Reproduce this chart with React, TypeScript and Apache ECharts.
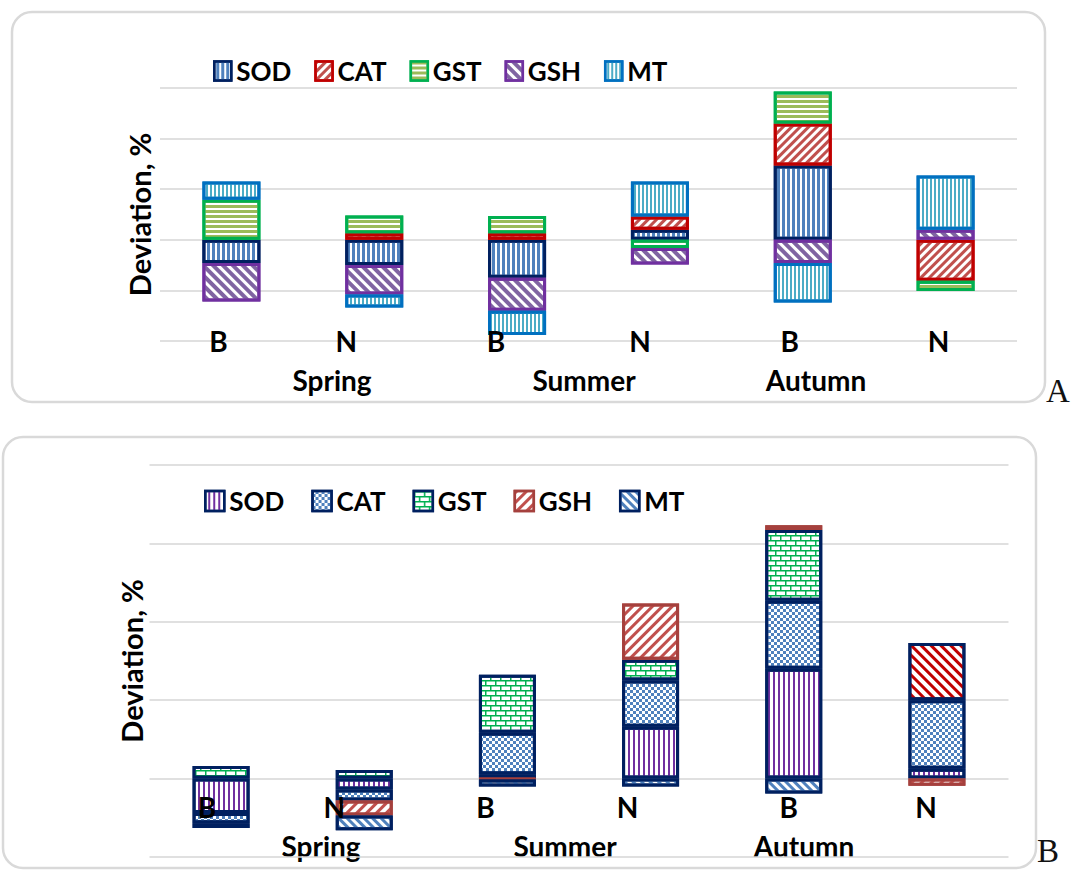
import React, { useEffect, useRef } from 'react';
import * as echarts from 'echarts';

// ---------- data ----------
const categories = ['B', 'N', 'B', 'N', 'B', 'N'];
const seasons = ['Spring', 'Summer', 'Autumn'];
const seriesNames = ['SOD', 'CAT', 'GST', 'GSH', 'MT'];

// Panel A (deviation, %)
const sodA = [-4.6, -5.0, -7.5, 2.0, 14.7, null];
const catA = [null, 1.3, 1.3, 2.6, 8.3, -8.1];
const gstA = [7.9, 3.5, 3.4, -1.6, 6.3, -2.0];
const gshA = [-7.6, -5.8, -6.5, -3.3, -4.6, 2.0];
const mtA = [3.6, -2.6, -4.8, 6.9, -7.8, 10.7];

// Panel B (deviation, %)
const sodB = [-4.4, -1.4, 0.55, 6.6, 14.0, 1.25];
const catB = [-1.3, -1.4, 5.3, 5.9, 8.7, 8.75];
const gstB = [1.6, 1.1, 7.4, 2.65, 9.0, null];
const gshB = [null, -1.9, -0.1, 7.2, 0.6, -0.9];
const mtB = [-0.6, -1.9, -0.9, -1.0, -1.9, 7.3];

const FONT = 'Lato';

// ---------- decals ----------
const stripe = (color: string, w: number, g: number, rotation: number) => ({
  symbol: 'rect',
  symbolSize: 1,
  color,
  dashArrayX: [10, 0],
  dashArrayY: [w, g],
  rotation,
});
const checker = (color: string, s: number) => ({
  symbol: 'rect',
  symbolSize: 1,
  color,
  dashArrayX: [[s, s], [0, s, s, 0]],
  dashArrayY: [s, 0],
  rotation: 0,
});
const brick = (color: string) => ({
  symbol: 'path://M0 0H10V1.5H0Z M0 5H10V6.5H0Z M0 0H1.5V5H0Z M5 5H6.5V10H5Z',
  symbolKeepAspect: false,
  symbolSize: 1,
  color,
  dashArrayX: [10, 0],
  dashArrayY: [10, 0],
  rotation: 0,
});

const V = Math.PI / 2;
const UP = -Math.PI / 4; // "/"
const DN = Math.PI / 4; // "\"

const stylesA = [
  { border: '#002060', decal: stripe('#4F81BD', 3, 2, V) },
  { border: '#C00000', decal: stripe('#C0504D', 3, 3, UP) },
  { border: '#00B050', decal: stripe('#9BBB59', 3, 2, 0) },
  { border: '#7030A0', decal: stripe('#8064A2', 4, 3, DN) },
  { border: '#0070C0', decal: stripe('#4BACC6', 2, 2, V) },
];
const stylesB = [
  { border: '#002060', decal: stripe('#7030A0', 2, 3, V) },
  { border: '#002060', decal: checker('#4F81BD', 3) },
  { border: '#002060', decal: brick('#00B050') },
  { border: '#A5403D', decal: stripe('#C0504D', 3, 4, UP) },
  { border: '#002060', decal: stripe('#4F81BD', 3, 3, DN) },
];
const autumnNMtDecal = stripe('#C00000', 3, 4, DN);

const labelShiftA = [13, 28, 21, 20, 13, 7];
const labelShiftB = [14, 30, 22, 23, 5, 11];

interface PanelCfg {
  data: any[][];
  styles: { border: string; decal: any }[];
  gridTop: number;
  gridBottom: number;
  gridLeft: number;
  gridRight: number;
  yMin: number;
  yMax: number;
  barWidth: number;
  labelShift: number[];
  labelMargin: number;
  nameGap: number;
  legendLeft: number;
  legendTop: number;
  legendIconW: number;
  legendIconH: number;
  legendGap: number;
  seasonX: number[];
  seasonY: number;
  frame: { x: number; y: number; w: number; h: number };
  letter: string;
  letterX: number;
  letterY: number;
}

function buildOption(cfg: PanelCfg) {
  const rich: any = {};
  cfg.labelShift.forEach((s, i) => {
    rich['s' + i] = {
      fontSize: 28,
      fontWeight: 'bold',
      fontFamily: FONT,
      color: '#000',
      padding: [0, 2 * s, 0, 0],
    };
  });
  return {
    animation: false,
    backgroundColor: '#fff',
    grid: {
      left: cfg.gridLeft,
      right: cfg.gridRight,
      top: cfg.gridTop,
      bottom: cfg.gridBottom,
      containLabel: false,
    },
    legend: {
      data: seriesNames,
      left: cfg.legendLeft,
      top: cfg.legendTop,
      icon: 'rect',
      itemWidth: cfg.legendIconW,
      itemHeight: cfg.legendIconH,
      itemGap: cfg.legendGap,
      itemStyle: { borderWidth: 2.5 },
      textStyle: { fontSize: 26, fontWeight: 'bold', fontFamily: FONT, color: '#000' },
      selectedMode: false,
    },
    xAxis: {
      type: 'category',
      data: categories,
      z: 6,
      axisLine: { show: false },
      axisTick: { show: false },
      splitLine: { show: false },
      axisLabel: {
        show: true,
        interval: 0,
        margin: cfg.labelMargin,
        verticalAlign: 'middle',
        formatter: (v: string, i: number) => `{s${i}|${v}}`,
        rich,
      },
    },
    yAxis: {
      type: 'value',
      min: cfg.yMin,
      max: cfg.yMax,
      interval: 10,
      axisLine: { show: false },
      axisTick: { show: false },
      axisLabel: { show: false },
      splitLine: { show: true, lineStyle: { color: '#D6D6D6', width: 1.6 } },
      name: 'Deviation, %',
      nameLocation: 'middle',
      nameRotate: 90,
      nameGap: cfg.nameGap,
      nameTextStyle: { fontSize: 29, fontWeight: 'bold', fontFamily: FONT, color: '#000' },
    },
    series: seriesNames.map((name, si) => ({
      name,
      type: 'bar',
      stack: 'total',
      barWidth: cfg.barWidth,
      data: cfg.data[si],
      itemStyle: {
        color: '#FFFFFF',
        borderColor: cfg.styles[si].border,
        borderWidth: 3,
        decal: cfg.styles[si].decal,
      },
    })),
    graphic: [
      {
        type: 'rect',
        silent: true,
        shape: { x: cfg.frame.x, y: cfg.frame.y, width: cfg.frame.w, height: cfg.frame.h, r: 20 },
        style: { fill: 'none', stroke: '#D9D9D9', lineWidth: 2.5 },
      },
      ...seasons.map((s, i) => ({
        type: 'text',
        silent: true,
        x: cfg.seasonX[i],
        y: cfg.seasonY,
        style: {
          text: s,
          align: 'center',
          verticalAlign: 'middle',
          fontSize: 28,
          fontWeight: 'bold',
          fontFamily: FONT,
          fill: '#000',
        },
      })),
      {
        type: 'text',
        silent: true,
        x: cfg.letterX,
        y: cfg.letterY,
        style: {
          text: cfg.letter,
          align: 'left',
          verticalAlign: 'middle',
          fontSize: 33,
          fontFamily: 'Liberation Serif',
          fill: '#111',
        },
      },
    ],
  };
}

const mtBData = mtB.map((v, i) =>
  i === 5 ? { value: v, itemStyle: { decal: autumnNMtDecal } } : v
);

const cfgA: PanelCfg = {
  data: [sodA, catA, gstA, gshA, mtA],
  styles: stylesA,
  gridTop: 88,
  gridBottom: 435 - 341,
  gridLeft: 160,
  gridRight: 1071 - 1017,
  yMin: -20,
  yMax: 30,
  barWidth: 58,
  labelShift: labelShiftA,
  labelMargin: 0,
  nameGap: 6,
  legendLeft: 208,
  legendTop: 53,
  legendIconW: 17,
  legendIconH: 19,
  legendGap: 23,
  seasonX: [332, 584, 816],
  seasonY: 380,
  frame: { x: 12, y: 12, w: 1033, h: 390 },
  letter: 'A',
  letterX: 1046,
  letterY: 391,
};

const cfgB: PanelCfg = {
  data: [sodB, catB, gstB, gshB, mtBData],
  styles: stylesB,
  gridTop: 30,
  gridBottom: 435 - 422,
  gridLeft: 149.5,
  gridRight: 1071 - 1008.5,
  yMin: -10,
  yMax: 40,
  barWidth: 57,
  labelShift: labelShiftB,
  labelMargin: -50,
  nameGap: 4,
  legendLeft: 199,
  legendTop: 48,
  legendIconW: 19,
  legendIconH: 20,
  legendGap: 27,
  seasonX: [321, 565, 804],
  seasonY: 411,
  frame: { x: 3, y: 2, w: 1033, h: 431 },
  letter: 'B',
  letterX: 1037,
  letterY: 416,
};

export default function App() {
  const refA = useRef<HTMLDivElement>(null);
  const refB = useRef<HTMLDivElement>(null);
  useEffect(() => {
    const ca = echarts.init(refA.current!, null, { renderer: 'svg' });
    ca.setOption(buildOption(cfgA) as any);
    const cb = echarts.init(refB.current!, null, { renderer: 'svg' });
    cb.setOption(buildOption(cfgB) as any);
    return () => {
      ca.dispose();
      cb.dispose();
    };
  }, []);
  return (
    <div style={{ position: 'absolute', left: 0, top: 0, width: 1071, height: 870, background: '#fff' }}>
      <div ref={refA} style={{ position: 'absolute', left: 0, top: 0, width: 1071, height: 435 }} />
      <div ref={refB} style={{ position: 'absolute', left: 0, top: 435, width: 1071, height: 435 }} />
    </div>
  );
}
